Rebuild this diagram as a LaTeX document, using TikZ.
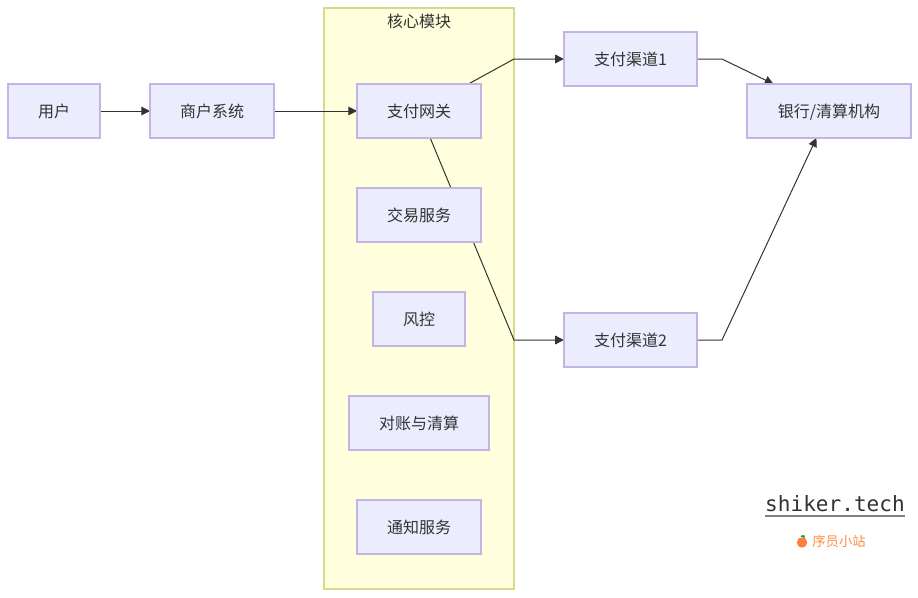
\documentclass[tikz,border=0pt]{standalone}
\usepackage{fontspec}
\setmainfont{Noto Sans CJK SC}
\newfontfamily\sitefont{DejaVu Sans Mono}
\usetikzlibrary{arrows.meta,backgrounds}
\definecolor{boxfill}{HTML}{ECECFF}
\definecolor{boxline}{HTML}{C2B4E4}
\definecolor{modfill}{HTML}{FFFFDE}
\definecolor{modline}{HTML}{D9D98E}
\definecolor{edgeline}{HTML}{333333}
\definecolor{sitecolor}{HTML}{FF8C42}
\tikzset{
	flowbox/.style={draw=boxline, fill=boxfill, line width=1.5pt, text=edgeline, font=\fontsize{12}{14}\selectfont, minimum height=40.5pt, inner sep=0pt, outer sep=0pt, text depth=-.5pt},
	flowedge/.style={draw=edgeline, line width=.75pt, -{Triangle[length=6.5pt,width=6.5pt]}}
}
\begin{document}
\begin{tikzpicture}[x=.75pt, y=-.75pt]
	\useasboundingbox (0,0) rectangle (918,597);
	% nodes
	\node[flowbox, minimum width=69pt] (user) at (54,111) {用户};
	\node[flowbox, minimum width=93pt] (merchant) at (212,111) {商户系统};
	\node[flowbox, minimum width=93pt] (gateway) at (419,111) {支付网关};
	\node[flowbox, minimum width=93pt] (trade) at (419,215) {交易服务};
	\node[flowbox, minimum width=69pt] (risk) at (419,319) {风控};
	\node[flowbox, minimum width=105pt] (recon) at (419,423) {对账与清算};
	\node[flowbox, minimum width=93pt] (notify) at (419,527) {通知服务};
	\node[flowbox, minimum width=100pt] (channela) at (630.5,59) {支付渠道1};
	\node[flowbox, minimum width=100pt] (channelb) at (630.5,340) {支付渠道2};
	\node[flowbox, minimum width=123pt] (bank) at (829,111) {银行/清算机构};
	\node[text=edgeline, font=\fontsize{12}{14}\selectfont] (moduletitle) at (419,21) {核心模块};
	% bends
	\coordinate (bendaleft) at (514,59);
	\coordinate (bendbleft) at (514,340);
	\coordinate (bendaright) at (722,59);
	\coordinate (bendbright) at (722,340);
	% frame first, then the connectors, all behind the boxes
	\begin{pgfonlayer}{background}
		\fill[white] (0,0) rectangle (918,597);
		\node[draw=modline, fill=modfill, line width=1.5pt, minimum width=142.5pt, minimum height=436pt, inner sep=0pt] (module) at (419,298.5) {};
		\draw[flowedge] (user) -- (merchant);
		\draw[flowedge] (merchant) -- (gateway);
		\draw[flowedge] (gateway.center) -- (bendaleft) -- (channela);
		\draw[flowedge] (gateway.center) -- (bendbleft) -- (channelb);
		\draw[flowedge] (channela) -- (bendaright) -- (bank);
		\draw[flowedge] (channelb) -- (bendbright) -- (bank);
	\end{pgfonlayer}
	% site mark
	\node[text=edgeline, font=\sitefont\fontsize{15.8}{18}\selectfont, inner sep=0pt] (site) at (835,504) {shiker.tech};
	\coordinate (sitelinea) at (765,515.5);
	\coordinate (sitelineb) at (905,515.5);
	\draw[gray, line width=1.5pt] (sitelinea) -- (sitelineb);
	\node[text=sitecolor, font=\fontsize{10}{12}\selectfont, inner sep=0pt] (sitename) at (839,541.5) {序员小站};
	\fill[sitecolor!90!red] (802,542.5) circle (5.2);
	\fill[green!60!black] (800,536) -- (804,535) -- (805,538) -- cycle;
\end{tikzpicture}
\end{document}
